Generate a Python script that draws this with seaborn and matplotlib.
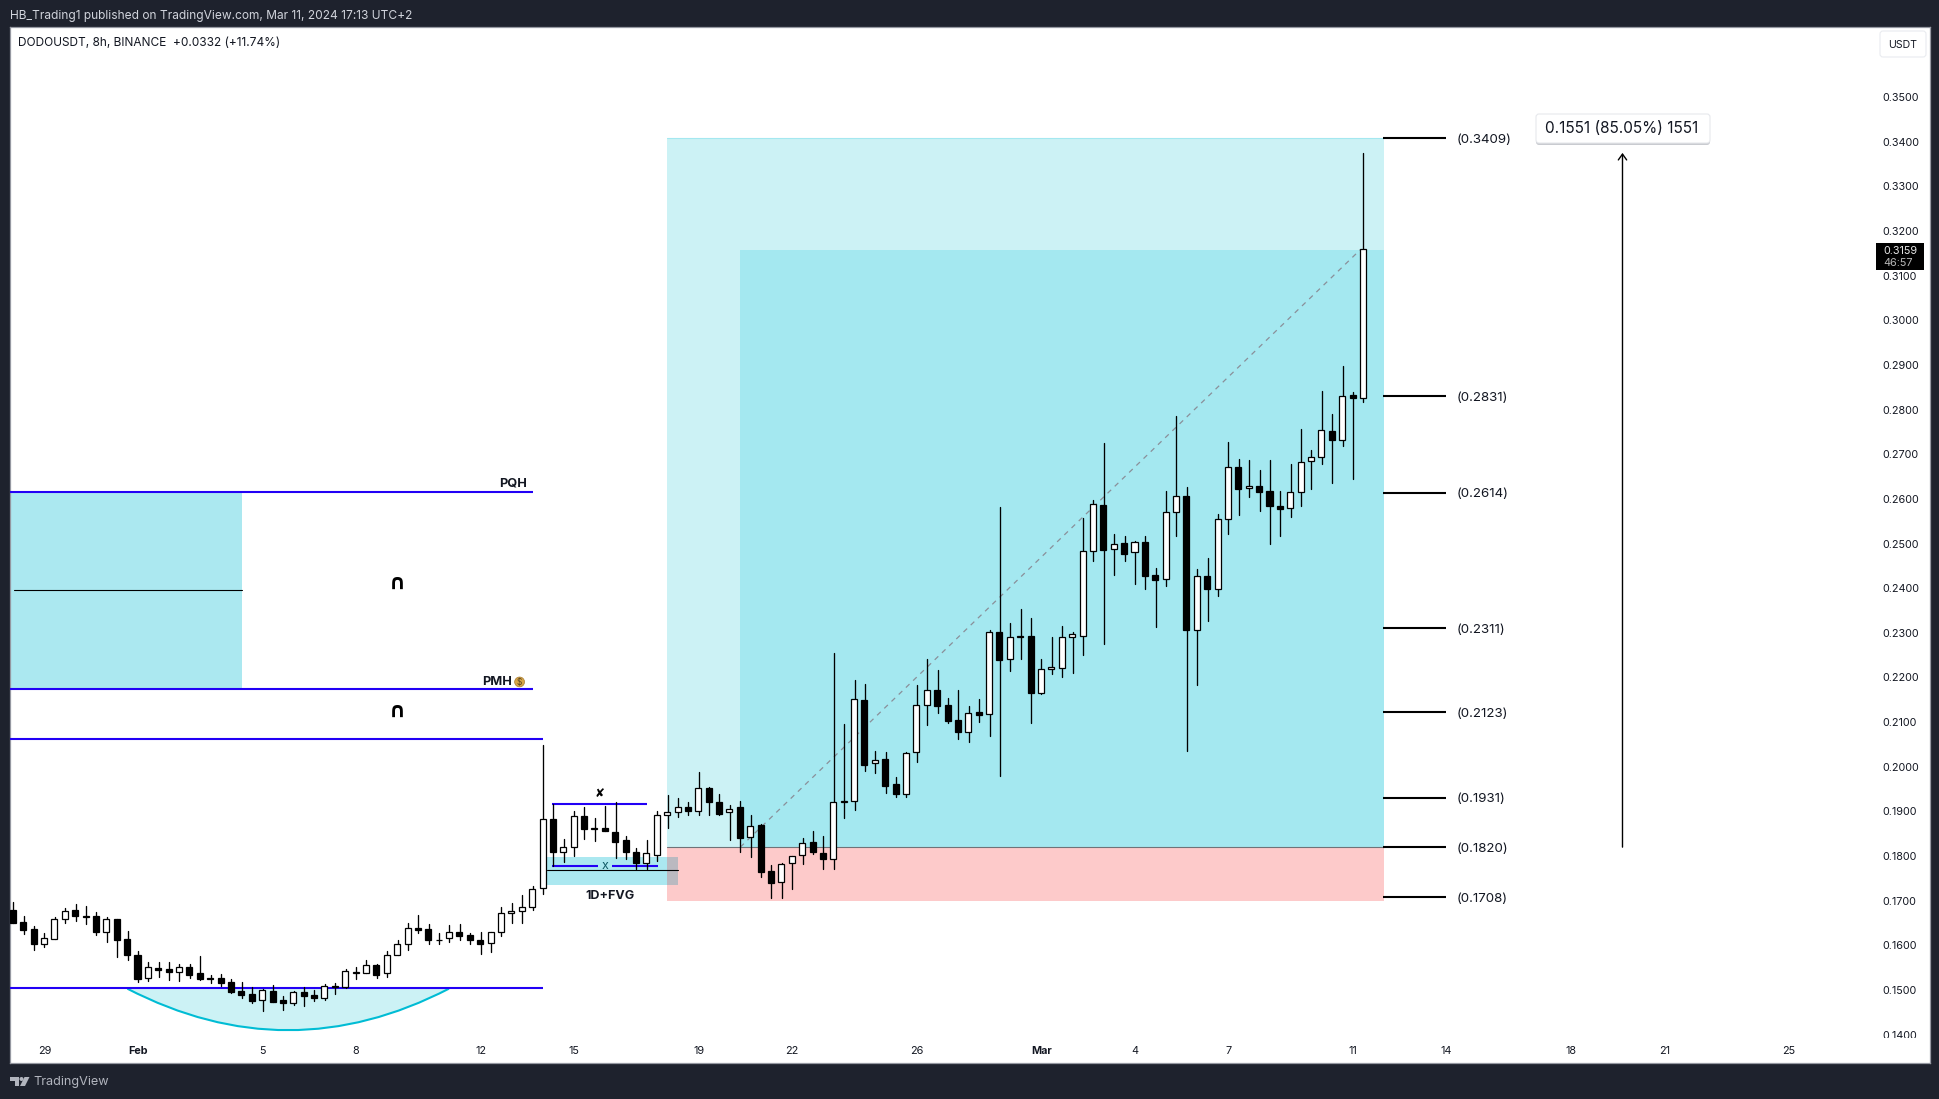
import numpy as np
import pandas as pd
import matplotlib
matplotlib.use('Agg')
import matplotlib.pyplot as plt
import seaborn as sns
from matplotlib.patches import Rectangle, PathPatch, FancyBboxPatch, Polygon, Circle, Ellipse
from matplotlib.path import Path

# ── Candles (DODOUSDT 8h) ─────────────────────────────────────────────────────
opens = [
    0.1679, 0.1652, 0.1637, 0.1604, 0.1615, 0.1660, 0.1679, 0.1665, 0.1665, 0.1631,
    0.1658, 0.1614, 0.1578, 0.1528, 0.1549, 0.1547, 0.1541, 0.1551, 0.1537, 0.1527,
    0.1527, 0.1517, 0.1497, 0.1490, 0.1478, 0.1497, 0.1477, 0.1472, 0.1496, 0.1489,
    0.1481, 0.1507, 0.1506, 0.1539, 0.1537, 0.1555, 0.1537, 0.1578, 0.1602, 0.1640,
    0.1636, 0.1613, 0.1616, 0.1631, 0.1623, 0.1611, 0.1605, 0.1629, 0.1672, 0.1676,
    0.1687, 0.1728, 0.1882, 0.1808, 0.1820, 0.1889, 0.1861, 0.1862, 0.1855, 0.1835,
    0.1808, 0.1785, 0.1803, 0.1891, 0.1898, 0.1909, 0.1902, 0.1952, 0.1920, 0.1898,
    0.1909, 0.1842, 0.1869, 0.1766, 0.1741, 0.1784, 0.1802, 0.1831, 0.1806, 0.1793,
    0.1920, 0.1923, 0.2149, 0.2008, 0.2017, 0.1961, 0.1940, 0.2032, 0.2138, 0.2171,
    0.2138, 0.2104, 0.2077, 0.2122, 0.2118, 0.2301, 0.2241, 0.2290, 0.2294, 0.2166,
    0.2218, 0.2222, 0.2290, 0.2294, 0.2484, 0.2586, 0.2487, 0.2501, 0.2480, 0.2503,
    0.2429, 0.2421, 0.2570, 0.2606, 0.2306, 0.2427, 0.2398, 0.2554, 0.2671, 0.2624,
    0.2630, 0.2617, 0.2583, 0.2579, 0.2615, 0.2684, 0.2693, 0.2751, 0.2731, 0.2832,
    0.2827,
]
highs = [
    0.1696, 0.1666, 0.1643, 0.1627, 0.1663, 0.1683, 0.1693, 0.1688, 0.1675, 0.1663,
    0.1658, 0.1632, 0.1587, 0.1563, 0.1563, 0.1563, 0.1558, 0.1558, 0.1576, 0.1534,
    0.1536, 0.1525, 0.1518, 0.1507, 0.1502, 0.1511, 0.1487, 0.1498, 0.1507, 0.1500,
    0.1513, 0.1516, 0.1546, 0.1551, 0.1567, 0.1558, 0.1587, 0.1611, 0.1650, 0.1668,
    0.1648, 0.1628, 0.1646, 0.1648, 0.1627, 0.1631, 0.1631, 0.1686, 0.1695, 0.1713,
    0.1734, 0.2049, 0.1917, 0.1838, 0.1902, 0.1910, 0.1885, 0.1912, 0.1920, 0.1845,
    0.1817, 0.1836, 0.1900, 0.1937, 0.1930, 0.1921, 0.1988, 0.1954, 0.1939, 0.1914,
    0.1923, 0.1892, 0.1872, 0.1779, 0.1785, 0.1801, 0.1841, 0.1856, 0.1845, 0.2255,
    0.2096, 0.2194, 0.2185, 0.2035, 0.2033, 0.1977, 0.2032, 0.2183, 0.2241, 0.2217,
    0.2153, 0.2172, 0.2136, 0.2152, 0.2306, 0.2582, 0.2321, 0.2353, 0.2333, 0.2241,
    0.2291, 0.2315, 0.2302, 0.2558, 0.2598, 0.2725, 0.2521, 0.2517, 0.2506, 0.2517,
    0.2445, 0.2618, 0.2786, 0.2627, 0.2443, 0.2468, 0.2566, 0.2728, 0.2690, 0.2687,
    0.2665, 0.2687, 0.2618, 0.2678, 0.2757, 0.2710, 0.2842, 0.2790, 0.2898, 0.2840,
    0.3375,
]
lows = [
    0.1651, 0.1625, 0.1590, 0.1596, 0.1615, 0.1650, 0.1655, 0.1648, 0.1623, 0.1608,
    0.1574, 0.1567, 0.1518, 0.1520, 0.1529, 0.1522, 0.1520, 0.1527, 0.1522, 0.1516,
    0.1509, 0.1494, 0.1482, 0.1471, 0.1453, 0.1473, 0.1455, 0.1466, 0.1464, 0.1475,
    0.1478, 0.1491, 0.1504, 0.1525, 0.1537, 0.1528, 0.1530, 0.1578, 0.1590, 0.1628,
    0.1604, 0.1602, 0.1608, 0.1613, 0.1604, 0.1581, 0.1586, 0.1622, 0.1650, 0.1650,
    0.1680, 0.1714, 0.1778, 0.1787, 0.1800, 0.1839, 0.1834, 0.1857, 0.1796, 0.1794,
    0.1772, 0.1772, 0.1789, 0.1863, 0.1888, 0.1893, 0.1893, 0.1891, 0.1893, 0.1837,
    0.1810, 0.1799, 0.1754, 0.1705, 0.1707, 0.1727, 0.1783, 0.1805, 0.1772, 0.1772,
    0.1886, 0.1903, 0.1991, 0.1985, 0.1942, 0.1933, 0.1933, 0.2011, 0.2094, 0.2121,
    0.2099, 0.2063, 0.2056, 0.2101, 0.2070, 0.1980, 0.2215, 0.2242, 0.2099, 0.2164,
    0.2208, 0.2200, 0.2211, 0.2251, 0.2461, 0.2276, 0.2430, 0.2460, 0.2410, 0.2399,
    0.2312, 0.2406, 0.2518, 0.2036, 0.2184, 0.2327, 0.2383, 0.2522, 0.2563, 0.2605,
    0.2574, 0.2500, 0.2518, 0.2560, 0.2585, 0.2623, 0.2679, 0.2636, 0.2719, 0.2645,
    0.2818,
]
closes = [
    0.1651, 0.1634, 0.1604, 0.1616, 0.1658, 0.1678, 0.1666, 0.1664, 0.1631, 0.1658,
    0.1611, 0.1579, 0.1525, 0.1551, 0.1545, 0.1541, 0.1552, 0.1534, 0.1525, 0.1525,
    0.1516, 0.1496, 0.1489, 0.1475, 0.1499, 0.1474, 0.1472, 0.1496, 0.1487, 0.1481,
    0.1508, 0.1509, 0.1542, 0.1540, 0.1555, 0.1534, 0.1578, 0.1602, 0.1638, 0.1635,
    0.1611, 0.1611, 0.1631, 0.1622, 0.1611, 0.1604, 0.1629, 0.1672, 0.1676, 0.1687,
    0.1726, 0.1882, 0.1808, 0.1820, 0.1889, 0.1861, 0.1863, 0.1857, 0.1832, 0.1808,
    0.1785, 0.1806, 0.1891, 0.1898, 0.1909, 0.1902, 0.1952, 0.1920, 0.1895, 0.1906,
    0.1841, 0.1868, 0.1765, 0.1740, 0.1782, 0.1801, 0.1830, 0.1808, 0.1794, 0.1920,
    0.1924, 0.2151, 0.2005, 0.2016, 0.1958, 0.1940, 0.2030, 0.2138, 0.2171, 0.2137,
    0.2103, 0.2079, 0.2121, 0.2117, 0.2303, 0.2240, 0.2290, 0.2294, 0.2166, 0.2218,
    0.2223, 0.2290, 0.2297, 0.2483, 0.2588, 0.2486, 0.2500, 0.2477, 0.2503, 0.2428,
    0.2419, 0.2570, 0.2606, 0.2307, 0.2427, 0.2399, 0.2554, 0.2671, 0.2623, 0.2628,
    0.2616, 0.2583, 0.2578, 0.2615, 0.2682, 0.2693, 0.2754, 0.2731, 0.2831, 0.2825,
    0.3159,
]

# ── Axes labels and levels ────────────────────────────────────────────────────
date_bars = [3, 12, 24, 33, 45, 54, 66, 75, 87, 99, 108, 117, 129, 138, 150, 159, 171]
date_labels = ['29', 'Feb', '5', '8', '12', '15', '19', '22', '26', 'Mar', '4', '7', '11',
               '14', '18', '21', '25']
price_ticks = [0.14, 0.15, 0.16, 0.17, 0.18, 0.19, 0.20, 0.21, 0.22, 0.23, 0.24,
               0.25, 0.26, 0.27, 0.28, 0.29, 0.30, 0.31, 0.32, 0.33, 0.34, 0.35]
fib_levels = [0.3409, 0.2831, 0.2614, 0.2311, 0.2123, 0.1931, 0.1820, 0.1708]

# ── Config ────────────────────────────────────────────────────────────────────
W, H = 1940, 1099
DARK = '#1E222D'
BLUE = '#2200F5'
LIGHT_TEAL = '#CCF2F5'
TEAL = '#A4E8F0'
PINK = '#FDCACA'
INK = '#131722'

sns.set_theme(style='white')
plt.rcParams['font.family'] = ['Inter', 'DejaVu Sans']

fig = plt.figure(figsize=(W / 100, H / 100), dpi=100, facecolor=DARK)
ax = fig.add_axes([10 / W, 1 - 1063 / H, 1920 / W, 1036 / H], facecolor='white')


def fx(x):
    return x / W


def fy(y):
    return 1 - y / H


# ── Candles ───────────────────────────────────────────────────────────────────
bars = np.arange(len(opens))
df = pd.DataFrame({'bar': bars, 'open': opens, 'high': highs, 'low': lows, 'close': closes})
wicks = df.melt(id_vars='bar', value_vars=['high', 'low'], value_name='price')

sns.lineplot(data=wicks, x='bar', y='price', units='bar', estimator=None, color='black',
             linewidth=0.95, legend=False, ax=ax, zorder=4)

up = df['close'] >= df['open']
ax.bar(df['bar'] - 0.04, (df['close'] - df['open']).abs(), bottom=df[['open', 'close']].min(axis=1),
       width=0.58, color=np.where(up, 'white', 'black'), edgecolor='black', linewidth=0.9, zorder=5)

# ── Boxes ─────────────────────────────────────────────────────────────────────
def box(x0, x1, y0, y1, color, z=1, **kw):
    ax.add_patch(Rectangle((x0, y0), x1 - x0, y1 - y0, facecolor=color, edgecolor='none', zorder=z, **kw))


box(-0.32, 21.98, 0.2174, 0.2616, '#ABE8F0')
box(62.9, 132.0, 0.1820, 0.3409, LIGHT_TEAL)
box(69.93, 132.0, 0.1820, 0.3158, TEAL, z=1.1)
box(62.9, 132.0, 0.1699, 0.1820, PINK)
box(51.36, 62.9, 0.1735, 0.1798, '#ABE8F0', z=1.2)
box(62.9, 64.0, 0.1735, 0.1798, '#BBB9C0', z=1.2)

ax.plot([62.9, 132.0], [0.3409, 0.3409], color='#A4E8F0', lw=0.8, zorder=1.3)
ax.plot([62.9, 132.0], [0.1820, 0.1820], color='#6F7378', lw=0.8, zorder=1.3)
ax.plot([0.07, 21.98], [0.2396, 0.2396], color='black', lw=0.8, zorder=1.3)
ax.plot([51.36, 64.0], [0.1768, 0.1768], color='black', lw=0.8, zorder=3)

# diagonal between the two corners of the target box
ax.plot([70.0, 129.7], [0.1820, 0.3158], color='#8A8F99', lw=0.9, dashes=(4, 4), zorder=2)

# ── Rounded bottom under the 0.15 line ────────────────────────────────────────
arc = Path([(10.98, 0.1503), (26.46, 0.1317), (41.95, 0.1503), (10.98, 0.1503)],
           [Path.MOVETO, Path.CURVE3, Path.CURVE3, Path.CLOSEPOLY])
ax.add_patch(PathPatch(arc, facecolor=LIGHT_TEAL, edgecolor='none', zorder=1))
arc_line = Path([(10.98, 0.1503), (26.46, 0.1317), (41.95, 0.1503)],
                [Path.MOVETO, Path.CURVE3, Path.CURVE3])
ax.add_patch(PathPatch(arc_line, facecolor='none', edgecolor='#00BCD4', lw=1.5, zorder=1.5))

# ── Blue levels ───────────────────────────────────────────────────────────────
for x0, x1, y in [(-0.32, 50.04, 0.2616), (-0.32, 50.04, 0.2174), (-0.32, 51.0, 0.2063),
                  (-0.32, 51.0, 0.1505), (51.87, 61.0, 0.1917), (51.87, 56.3, 0.1778),
                  (57.65, 62.1, 0.1778)]:
    ax.plot([x0, x1], [y, y], color=BLUE, lw=1.5, solid_capstyle='butt', zorder=3)

# ── Fib levels ────────────────────────────────────────────────────────────────
for level in fib_levels:
    ax.plot([131.9, 137.95], [level, level], color='black', lw=1.5, solid_capstyle='butt', zorder=3)
    ax.text(139.0, level - 0.0004, f'({level:.4f})', fontsize=9.6, color=INK, va='center', ha='left')

# ── Labels on the chart ───────────────────────────────────────────────────────
ax.text(49.46, 0.2634, 'PQH', fontsize=9.2, fontweight='bold', color=INK, ha='right', va='center')
ax.text(48.0, 0.2190, 'PMH', fontsize=9.2, fontweight='bold', color=INK, ha='right', va='center')
ax.add_patch(Ellipse((48.75, 0.2190), 0.95, 0.0022, facecolor='#D8A548', edgecolor='#A87C30', lw=0.5, zorder=3))
ax.text(48.75, 0.2189, '$', fontsize=6, color='#5A4620', ha='center', va='center', zorder=4)
for y in [0.2411, 0.2126]:
    ax.text(36.95, y, '∩', fontsize=15, fontweight='bold', color='black', ha='center', va='center',
            family='DejaVu Sans')
ax.text(56.4, 0.1941, '✘', fontsize=8.5, color='black', ha='center', va='center', family='DejaVu Sans')
ax.text(56.98, 0.1777, 'x', fontsize=9, color='#0F5A66', ha='center', va='center', zorder=3)
ax.text(57.5, 0.1711, '1D+FVG', fontsize=9, fontweight='bold', color=INK, ha='center', va='center')

# ── Measure arrow ─────────────────────────────────────────────────────────────
ax.annotate('', xy=(154.95, 0.3375), xytext=(154.95, 0.1820),
            arrowprops=dict(arrowstyle='->,head_length=0.35,head_width=0.25', color='black', lw=1,
                            shrinkA=0, shrinkB=0))

# ── Scales ────────────────────────────────────────────────────────────────────
ax.set_xlim(-0.318, 184.56)
ax.set_ylim(0.13365, 0.3657)
ax.set_xlabel('')
ax.set_ylabel('')
ax.yaxis.tick_right()
ax.set_yticks(price_ticks)
ax.set_yticklabels([f'{p:.4f}' for p in price_ticks])
ax.tick_params(axis='y', length=0, pad=-34.5, labelsize=7.8, labelcolor=INK)
ax.set_xticks(date_bars)
ax.set_xticklabels(date_labels)
ax.tick_params(axis='x', length=0, pad=-12.3, labelsize=7.8, labelcolor=INK)
for tick in ax.get_xticklabels():
    if tick.get_text() in ('Feb', 'Mar'):
        tick.set_fontweight('bold')
for spine in ax.spines.values():
    spine.set_color('#9598A1')
    spine.set_linewidth(0.9)

# the lowest price label is cut by the time scale
ax.add_patch(Rectangle(((1870 - 10) / 1920, 1 / 1036), 58 / 1920, 24 / 1036, transform=ax.transAxes,
                       facecolor='white', edgecolor='none', zorder=6))

# ── Chrome in pixels ──────────────────────────────────────────────────────────
fig.text(fx(10), fy(15.5), 'HB_Trading1 published on TradingView.com, Mar 11, 2024 17:13 UTC+2',
         fontsize=8.6, color='#D1D4DC', va='center')
fig.text(fx(18), fy(43), 'DODOUSDT, 8h, BINANCE  +0.0332 (+11.74%)', fontsize=8.55, color=INK, va='center')
fig.text(fx(33.5), fy(1082), 'TradingView', fontsize=9.1, color='#B2B5BE', va='center')


def rounded(x0, y0, x1, y1, face, edge='none', r=3, z=8):
    # FancyBboxPatch in pixel space, mapped to the figure
    trans = plt.matplotlib.transforms.Affine2D().scale(1, -1).translate(0, H)
    fig.add_artist(FancyBboxPatch((x0 + r, y0 + r), x1 - x0 - 2 * r, y1 - y0 - 2 * r,
                                  boxstyle=f'round,pad={r},rounding_size={r}', facecolor=face,
                                  edgecolor=edge, lw=0.8, transform=trans, zorder=z))


rounded(1536, 116, 1710, 145, '#C9CBD0', z=8)
rounded(1536, 114, 1710, 143, 'white', edge='#E6E8EC', z=9)
fig.text(fx(1622), fy(129), '0.1551 (85.05%) 1551', fontsize=11.1, color=INK, ha='center', va='center', zorder=10)

rounded(1880, 31, 1926, 57, 'white', edge='#E9EBF0', z=8)
fig.text(fx(1903), fy(44.5), 'USDT', fontsize=7.6, color=INK, ha='center', va='center', zorder=10)

fig.add_artist(Rectangle((fx(1876), fy(270)), 48 / W, 27 / H, transform=fig.transFigure,
                         facecolor='black', edgecolor='none', zorder=8))
fig.text(fx(1883), fy(250.5), '0.3159', fontsize=7.8, color='#E8E8E8', va='center', zorder=10)
fig.text(fx(1883), fy(262.5), '46:57', fontsize=7.8, color='#B8B8B8', va='center', zorder=10)

# TradingView mark
logo_trans = plt.matplotlib.transforms.Affine2D().scale(1, -1).translate(0, H)
logo = '#B2B5BE'
fig.add_artist(Polygon([(10, 1077), (19, 1077), (19, 1086), (14.5, 1086), (14.5, 1081), (10, 1081)],
                       transform=logo_trans, facecolor=logo, edgecolor='none'))
fig.add_artist(Circle((21.5, 1079), 2, transform=logo_trans, facecolor=logo, edgecolor='none'))
fig.add_artist(Polygon([(24.5, 1077), (29.5, 1077), (25, 1086), (20, 1086)],
                       transform=logo_trans, facecolor=logo, edgecolor='none'))

plt.savefig('out.png', dpi=100, facecolor=fig.get_facecolor())
plt.close()
